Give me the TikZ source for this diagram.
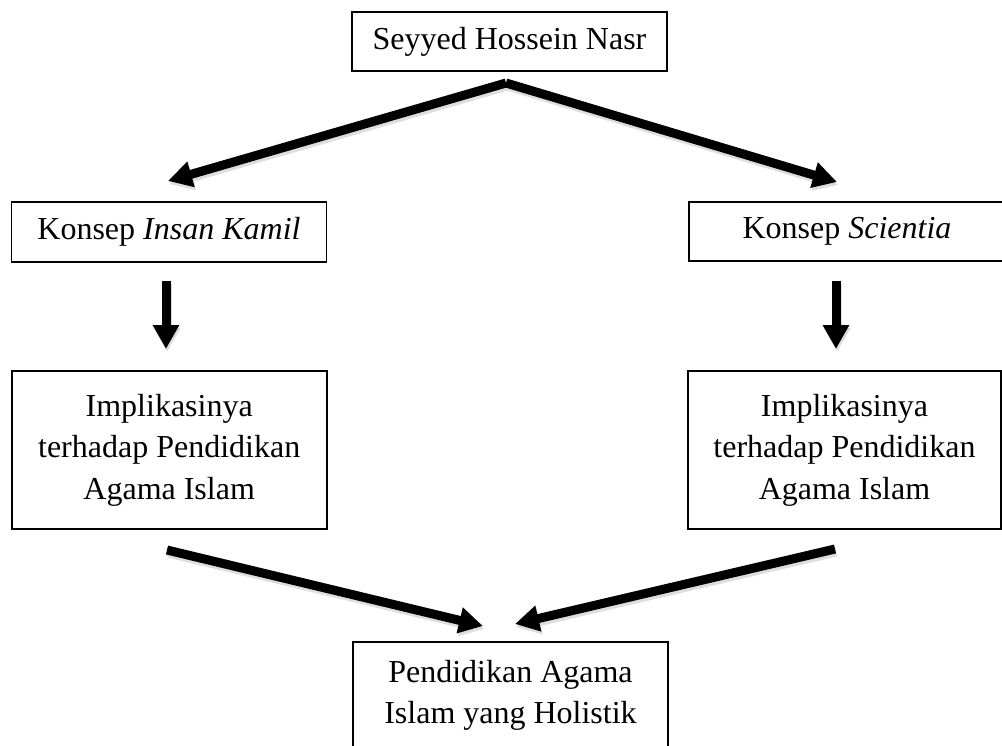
\documentclass[tikz,border=0pt]{standalone}
\usepackage{fontspec}
\setmainfont{Liberation Serif}
\usetikzlibrary{arrows.meta}
\begin{document}
\begin{tikzpicture}[x=1pt,y=-1pt,
  box/.style={draw=black, line width=1.6pt, align=center, inner sep=0pt,
    font=\fontsize{32}{41.5}\selectfont},
  bigarrow/.style={line width=9pt, line cap=butt,
    -{Triangle[length=24pt,width=25pt]},
    preaction={draw=black!13, line width=9pt, -{Triangle[length=24pt,width=25pt]},
      transform canvas={shift={(1.2pt,-3pt)}}}}
]
\useasboundingbox (0,0) rectangle (1002,745);
\fill[white] (0,0) rectangle (1002,745);

\node[box, minimum width=315pt, minimum height=59pt] (nasr) at (509.5,41.5) {Seyyed Hossein Nasr};
\node[box, minimum width=315pt, minimum height=60pt] (insan) at (169,232) {Konsep \textit{Insan Kamil}};
\node[box, minimum width=316pt, minimum height=59pt] (sci) at (847,231.5) {Konsep \textit{Scientia}};
\node[box, minimum width=315pt, minimum height=158pt] (impL) at (169.2,450) {Implikasinya\\terhadap Pendidikan\\Agama Islam};
\node[box, minimum width=313pt, minimum height=158pt] (impR) at (844.5,450) {Implikasinya\\terhadap Pendidikan\\Agama Islam};
\node[box, minimum width=315pt, minimum height=107pt] (hol) at (510.5,695.5) {Pendidikan Agama\\Islam yang Holistik};

\coordinate (apex) at (506,83);
\coordinate (tipIL) at (168,181);
\coordinate (tipSC) at (837,182);
\coordinate (vLs) at (166,281);
\coordinate (vLe) at (166,349);
\coordinate (vRs) at (836,281);
\coordinate (vRe) at (836,349);
\coordinate (lLs) at (167,550);
\coordinate (lLe) at (483,626);
\coordinate (lRs) at (835,549);
\coordinate (lRe) at (515,624);

\draw[bigarrow] (apex) -- (tipIL);
\draw[bigarrow] (apex) -- (tipSC);
\draw[bigarrow] (vLs) -- (vLe);
\draw[bigarrow] (vRs) -- (vRe);
\draw[bigarrow] (lLs) -- (lLe);
\draw[bigarrow] (lRs) -- (lRe);
\end{tikzpicture}
\end{document}
